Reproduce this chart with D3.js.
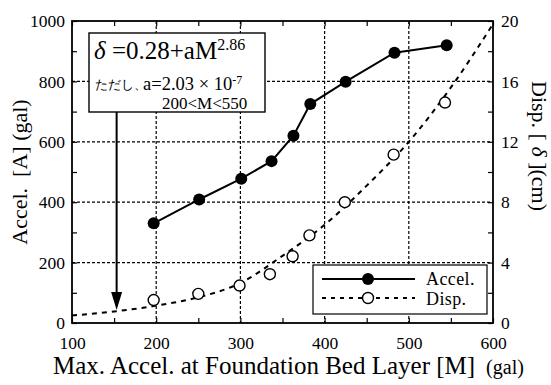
<!DOCTYPE html>
<html>
<head>
<meta charset="utf-8">
<script src="https://cdn.jsdelivr.net/npm/d3@7"></script>
<style>
    body { margin: 0; background: #fff; }
    svg text { font-family: "Liberation Serif", serif; fill: #000; }
</style>
</head>
<body>
<svg id="chart" width="551" height="385"></svg>
<script>
// values
const accelM = [197, 251, 301, 337, 363, 383, 425, 483, 545];
const accelA = [330, 409, 478, 536, 620, 725, 799, 895, 920];
const dispM = [197, 250, 299, 335, 362, 382, 424, 482, 543];
const dispD = [1.52, 1.93, 2.48, 3.23, 4.42, 5.8, 8.0, 11.15, 14.6];
// fitted curve (dashed)
const fitM = [100, 150, 200, 250, 300, 350, 400, 450, 500, 550, 600];
const fitD = [0.5, 0.76, 1.15, 1.7, 2.65, 4.45, 6.5, 9.1, 12.0, 15.6, 19.8];
const xTicks = [100, 200, 300, 400, 500, 600];
const yTicks = [0, 200, 400, 600, 800, 1000];
const y2Ticks = [0, 4, 8, 12, 16, 20];
const arrowM = 153;

const serif = "Liberation Serif";
const svg = d3.select("#chart");
const pLeft = 72, pRight = 493, pTop = 21, pBottom = 323;

const x = d3.scaleLinear().domain([100, 600]).range([pLeft, pRight]);
const y = d3.scaleLinear().domain([0, 1000]).range([pBottom, pTop]);
const y2 = d3.scaleLinear().domain([0, 20]).range([pBottom, pTop]);

// grid
const grid = svg.append("g").attr("stroke", "#000").attr("stroke-width", 1.2)
    .attr("stroke-dasharray", "3,2");
grid.selectAll(".gx").data([200, 300, 400, 500]).join("line")
    .attr("x1", d => x(d)).attr("x2", d => x(d))
    .attr("y1", pTop).attr("y2", pBottom);
grid.selectAll(".gy").data([200, 400, 600, 800]).join("line")
    .attr("x1", pLeft).attr("x2", pRight)
    .attr("y1", d => y(d)).attr("y2", d => y(d));

// axes (ticks inward)
function styleAxis(g) {
    g.select(".domain").remove();
    g.attr("font-family", serif).attr("font-size", 17.5);
    g.selectAll("line").attr("stroke", "#000").attr("stroke-width", 1.2);
    g.selectAll("text").attr("font-family", serif).attr("font-size", 17.5).attr("fill", "#000");
}
const minorX = d3.range(100, 601, 50);
svg.append("g").attr("transform", `translate(0,${pBottom})`)
    .call(d3.axisBottom(x).tickValues(minorX).tickSize(-5).tickPadding(14)
        .tickFormat(d => xTicks.includes(d) ? d : ""))
    .call(styleAxis);
svg.append("g").attr("transform", `translate(0,${pTop})`)
    .call(d3.axisTop(x).tickValues(minorX).tickSize(-5).tickFormat(""))
    .call(styleAxis);
svg.append("g").attr("transform", `translate(${pLeft},0)`)
    .call(d3.axisLeft(y).tickValues(d3.range(0, 1001, 100)).tickSize(-5).tickPadding(7)
        .tickFormat(d => yTicks.includes(d) ? d : ""))
    .call(styleAxis);
svg.append("g").attr("transform", `translate(${pRight},0)`)
    .call(d3.axisRight(y2).tickValues(d3.range(0, 21, 2)).tickSize(-5).tickPadding(8)
        .tickFormat(d => y2Ticks.includes(d) ? d : ""))
    .call(styleAxis);

// frame
svg.append("rect").attr("x", pLeft).attr("y", pTop)
    .attr("width", pRight - pLeft).attr("height", pBottom - pTop)
    .attr("fill", "none").attr("stroke", "#000").attr("stroke-width", 1.8);

// fitted curve
const fit = fitM.map((m, i) => [m, fitD[i]]);
svg.append("path").datum(fit)
    .attr("d", d3.line().x(d => x(d[0])).y(d => y2(d[1])).curve(d3.curveMonotoneX))
    .attr("fill", "none").attr("stroke", "#000").attr("stroke-width", 2)
    .attr("stroke-dasharray", "5,5");

// accel line + markers
const accel = accelM.map((m, i) => [m, accelA[i]]);
svg.append("path").datum(accel)
    .attr("d", d3.line().x(d => x(d[0])).y(d => y(d[1])))
    .attr("fill", "none").attr("stroke", "#000").attr("stroke-width", 2);
svg.selectAll(".acc").data(accel).join("circle")
    .attr("cx", d => x(d[0])).attr("cy", d => y(d[1])).attr("r", 6)
    .attr("fill", "#000");

// disp markers
const disp = dispM.map((m, i) => [m, dispD[i]]);
svg.selectAll(".disp").data(disp).join("circle")
    .attr("cx", d => x(d[0])).attr("cy", d => y2(d[1])).attr("r", 5.5)
    .attr("fill", "#fff").attr("stroke", "#000").attr("stroke-width", 1.4);

// annotation box
const box = svg.append("g");
box.append("rect").attr("x", 89).attr("y", 33).attr("width", 176).attr("height", 79)
    .attr("fill", "#fff").attr("stroke", "#000").attr("stroke-width", 1.4);
const t1 = box.append("text").attr("x", 94).attr("y", 59).attr("font-size", 25);
t1.append("tspan").attr("font-style", "italic").text("δ");
t1.append("tspan").text(" =0.28+aM");
t1.append("tspan").attr("font-size", 16).attr("dy", -9).text("2.86");
box.append("text").attr("x", 95).attr("y", 89).attr("font-size", 13)
    .attr("font-family", "'Noto Sans CJK JP'").text("ただし、");
const t2 = box.append("text").attr("x", 143).attr("y", 90).attr("font-size", 18.5);
t2.append("tspan").text("a=2.03 × 10");
t2.append("tspan").attr("font-size", 12).attr("dy", -6).text("-7");
box.append("text").attr("x", 162).attr("y", 108.5).attr("font-size", 17).text("200<M<550");

// arrow
svg.append("line").attr("x1", x(arrowM)).attr("x2", x(arrowM))
    .attr("y1", 112).attr("y2", 296).attr("stroke", "#000").attr("stroke-width", 2);
svg.append("path")
    .attr("d", `M${x(arrowM) - 5.5},292 L${x(arrowM) + 5.5},292 L${x(arrowM)},310 Z`)
    .attr("fill", "#000");

// legend
const lg = svg.append("g");
lg.append("rect").attr("x", 313).attr("y", 265).attr("width", 174).attr("height", 49)
    .attr("fill", "#fff").attr("stroke", "#000").attr("stroke-width", 1.2);
lg.append("line").attr("x1", 322).attr("x2", 415).attr("y1", 279).attr("y2", 279)
    .attr("stroke", "#000").attr("stroke-width", 2);
lg.append("circle").attr("cx", 368).attr("cy", 279).attr("r", 6).attr("fill", "#000");
lg.append("line").attr("x1", 322).attr("x2", 415).attr("y1", 298).attr("y2", 298)
    .attr("stroke", "#000").attr("stroke-width", 2).attr("stroke-dasharray", "4,5");
lg.append("circle").attr("cx", 368).attr("cy", 298).attr("r", 5.5)
    .attr("fill", "#fff").attr("stroke", "#000").attr("stroke-width", 1.4);
lg.append("text").attr("x", 426).attr("y", 284.5).attr("font-size", 18)
    .attr("letter-spacing", 0.4).text("Accel.");
lg.append("text").attr("x", 426).attr("y", 304.5).attr("font-size", 18)
    .attr("letter-spacing", 0.4).text("Disp.");

// axis titles
const xt = svg.append("text").attr("x", 53).attr("y", 374).attr("font-size", 25);
xt.append("tspan").text("Max. Accel. at Foundation Bed Layer [M]");
xt.append("tspan").attr("font-size", 20).attr("dx", 11).text("(gal)");

svg.append("text").attr("transform", "translate(27,172) rotate(-90)")
    .attr("text-anchor", "middle").attr("font-size", 22)
    .attr("xml:space", "preserve").text("Accel.  [A] (gal)");
const rt = svg.append("text").attr("transform", "translate(532,146) rotate(90)")
    .attr("text-anchor", "middle").attr("font-size", 22);
rt.append("tspan").text("Disp. [ ");
rt.append("tspan").attr("font-style", "italic").text("δ");
rt.append("tspan").text(" ](cm)");
</script>
</body>
</html>
